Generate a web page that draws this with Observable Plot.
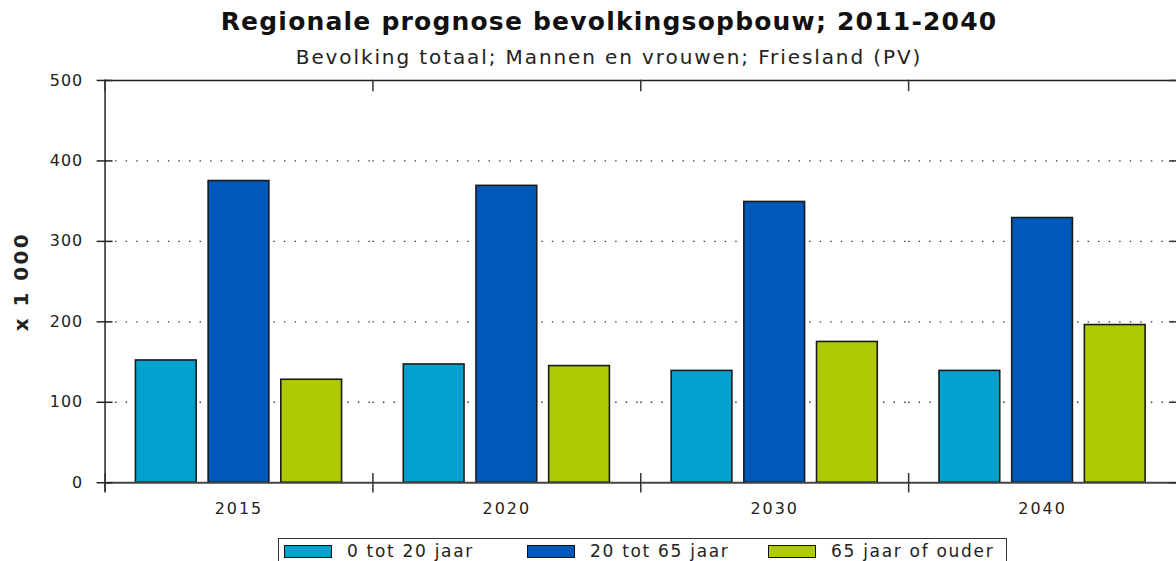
<!DOCTYPE html>
<html>
<head>
<meta charset="utf-8">
<script src="https://cdn.jsdelivr.net/npm/d3@7"></script>
<script src="https://cdn.jsdelivr.net/npm/@observablehq/plot@0.6"></script>
<style>
  body { margin: 0; background: #fff; font-family: "DejaVu Sans", Verdana, sans-serif; overflow: hidden; }
  #wrap { width: 1176px; height: 561px; overflow: hidden; position: relative; }
  #title { height: 42px; line-height: 44px; padding-left: 42px; text-align: center; font-weight: bold; font-size: 25px; letter-spacing: 1.2px; color: #111; white-space: nowrap; }
  #subtitle { height: 30px; line-height: 30px; padding-left: 42px; text-align: center; font-size: 20px; letter-spacing: 1.9px; color: #222; white-space: nowrap; }
  #chart svg { display: block; }
  #chart g[aria-label="y-axis label"] text { font-weight: bold; font-size: 20px; letter-spacing: 2.5px; }
  #chart g[aria-label="fx-axis tick label"] text { letter-spacing: 2px; }
  #chart g[aria-label="y-axis tick label"] text { letter-spacing: 1px; }
  #legend { position: absolute; left: 278px; top: 538px; width: 729px; height: 30px; border: 1.5px solid #333; box-sizing: border-box; font-size: 17px; letter-spacing: 1.7px; color: #222; }
  .item { position: absolute; top: 2px; display: flex; align-items: center; white-space: nowrap; }
  .sw { width: 46px; height: 11px; border: 1.5px solid #111; margin-right: 15px; }
</style>
</head>
<body>
<div id="wrap">
  <div id="title">Regionale prognose bevolkingsopbouw; 2011-2040</div>
  <div id="subtitle">Bevolking totaal; Mannen en vrouwen; Friesland (PV)</div>
  <div id="chart"></div>
  <div id="legend"></div>
</div>
<script>
const years = ["2015", "2020", "2030", "2040"];
const series = ["0 tot 20 jaar", "20 tot 65 jaar", "65 jaar of ouder"];
const age0to20 = [152, 147, 139, 139];
const age20to65 = [375, 369, 349, 329];
const age65plus = [128, 145, 175, 196];
const colors = ["#00a1cd", "#0058b8", "#b0c905"];
const yTicks = [0, 100, 200, 300, 400, 500];
const yLabel = "x 1 000";

const seriesValues = [age0to20, age20to65, age65plus];
const data = years.flatMap((year, i) =>
  series.map((s, j) => ({ year, series: s, value: seriesValues[j][i] }))
);

const chart = Plot.plot({
  width: 1181,
  height: 458,
  marginTop: 8,
  marginLeft: 105,
  marginRight: 0,
  marginBottom: 46,
  style: { fontFamily: "DejaVu Sans, Verdana, sans-serif", fontSize: "16px", color: "#222", background: "#fff" },
  fx: { domain: years, padding: 0, label: null },
  x: { domain: series, paddingInner: 0.16, paddingOuter: 0.4, axis: null },
  y: { domain: [0, 500], label: null },
  color: { domain: series, range: colors },
  marks: [
    Plot.gridY(yTicks.filter(d => d > 0 && d < 500), { stroke: "#333", strokeOpacity: 1, strokeWidth: 1.4, strokeDasharray: "1.4,9.2" }),
    Plot.ruleY([500], { stroke: "#222", strokeWidth: 1.5 }),
    Plot.barY(data, { fx: "year", x: "series", y: "value", fill: "series", stroke: "#1a1a1a", strokeWidth: 1.6 }),
    Plot.ruleY([0], { stroke: "#444", strokeWidth: 2 }),
    Plot.frame({ anchor: "left", facetAnchor: "left", insetBottom: -8, stroke: "#222", strokeWidth: 1.5 }),
    Plot.frame({ anchor: "left", insetTop: 395, insetBottom: -9, stroke: "#333", strokeWidth: 1.5 }),
    Plot.frame({ anchor: "left", insetBottom: 394, stroke: "#333", strokeWidth: 1.5 }),
    Plot.axisY(yTicks, { anchor: "left", tickSize: 8, tickPadding: 14, stroke: "#222", strokeWidth: 1.5, fill: "#222",
      label: yLabel, labelAnchor: "center", labelOffset: 92, labelArrow: "none" }),
    Plot.axisY(yTicks, { anchor: "left", tickSize: -8, tickFormat: () => "", label: null, stroke: "#222", strokeWidth: 1.5 }),
    Plot.axisY(yTicks, { anchor: "right", tickSize: -8, tickFormat: () => "", label: null, stroke: "#333", strokeWidth: 1.5 }),
    Plot.axisFx({ anchor: "bottom", tickSize: 0, tickPadding: 20, label: null, fill: "#222" })
  ]
});
document.getElementById("chart").appendChild(chart);

const legend = document.getElementById("legend");
const itemLeft = [5, 248, 489];
series.forEach((s, i) => {
  const item = document.createElement("div");
  item.className = "item";
  item.style.left = itemLeft[i] + "px";
  const sw = document.createElement("div");
  sw.className = "sw";
  sw.style.background = colors[i];
  const t = document.createElement("span");
  t.textContent = s;
  item.appendChild(sw);
  item.appendChild(t);
  legend.appendChild(item);
});
</script>
</body>
</html>
